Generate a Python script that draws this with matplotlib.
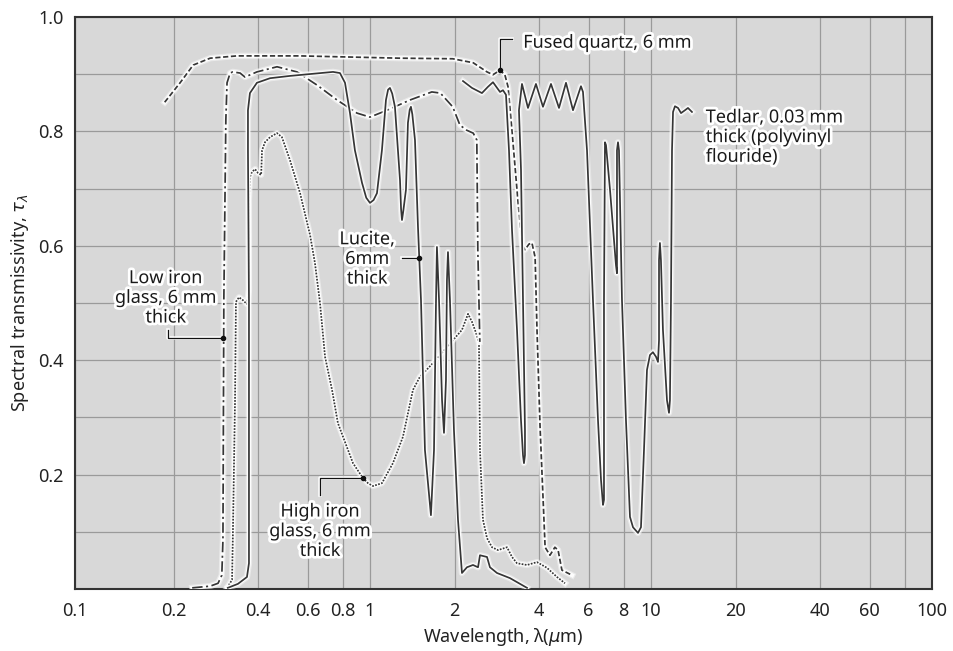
import matplotlib
matplotlib.use('Agg')
import matplotlib.pyplot as plt
import matplotlib.patheffects as pe

# wavelength (micrometres) and spectral transmissivity
quartz_wl = [0.186, 0.211, 0.235, 0.270, 0.336, 0.564, 1.28, 1.97, 2.33, 2.61, 2.74, 2.90, 3.02, 3.10,
             3.20, 3.36, 3.48, 3.56, 3.68, 3.77, 3.87, 3.93, 4.03, 4.09, 4.20, 4.37, 4.55, 4.67, 4.82, 5.24]
quartz_t = [0.851, 0.885, 0.916, 0.928, 0.932, 0.932, 0.928, 0.927, 0.920, 0.904, 0.899, 0.907, 0.899, 0.878,
            0.802, 0.680, 0.601, 0.593, 0.603, 0.605, 0.580, 0.453, 0.283, 0.208, 0.073, 0.059, 0.073, 0.068, 0.033, 0.024]

low_wl = [0.233, 0.270, 0.288, 0.297, 0.2998, 0.302, 0.307, 0.310, 0.318, 0.325, 0.345, 0.359, 0.396, 0.467,
          0.550, 0.648, 0.763, 0.899, 1.00, 1.15, 1.39, 1.66, 1.78, 1.97, 2.09, 2.21, 2.33, 2.40, 2.42, 2.46]
low_t = [0.002, 0.005, 0.010, 0.024, 0.086, 0.505, 0.820, 0.885, 0.902, 0.904, 0.902, 0.895, 0.904, 0.913,
         0.904, 0.881, 0.855, 0.832, 0.825, 0.837, 0.855, 0.869, 0.867, 0.843, 0.811, 0.802, 0.797, 0.785, 0.593, 0.432]

lucite_wl = [0.312, 0.339, 0.365, 0.371, 0.371, 0.368, 0.368, 0.374, 0.396, 0.441, 0.519, 0.739, 0.782, 0.815,
             0.849, 0.884, 0.937, 0.970, 1.000, 1.030, 1.059, 1.103, 1.140, 1.160, 1.178, 1.200, 1.227, 1.279,
             1.290, 1.300, 1.315, 1.343, 1.365, 1.385, 1.399, 1.415, 1.446, 1.482, 1.519, 1.569, 1.648, 1.690,
             1.718, 1.731, 1.761, 1.805, 1.834, 1.864, 1.879, 1.895, 1.926, 1.990, 2.057, 2.125, 2.214, 2.326,
             2.424, 2.463, 2.609, 2.673, 2.831, 3.150, 3.621]
lucite_t = [0.002, 0.009, 0.021, 0.045, 0.505, 0.767, 0.837, 0.867, 0.885, 0.893, 0.897, 0.904, 0.902, 0.885,
            0.832, 0.767, 0.710, 0.684, 0.675, 0.680, 0.692, 0.767, 0.855, 0.873, 0.876, 0.866, 0.843, 0.715,
            0.665, 0.645, 0.662, 0.698, 0.815, 0.838, 0.843, 0.830, 0.785, 0.633, 0.505, 0.243, 0.129, 0.243,
            0.505, 0.598, 0.505, 0.330, 0.273, 0.365, 0.540, 0.589, 0.505, 0.278, 0.121, 0.028, 0.038, 0.042,
            0.038, 0.059, 0.056, 0.038, 0.028, 0.019, 0.002]

high_wl = [0.310, 0.323, 0.325, 0.331, 0.3335, 0.342, 0.353, 0.365, 0.371, 0.371, 0.374, 0.380, 0.390, 0.400,
           0.410, 0.413, 0.423, 0.441, 0.467, 0.486, 0.519, 0.564, 0.612, 0.637, 0.664, 0.692, 0.733, 0.769,
           0.828, 0.870, 0.944, 0.984, 1.025, 1.103, 1.207, 1.310, 1.422, 1.506, 1.676, 1.879, 2.125, 2.214,
           2.233, 2.307, 2.384, 2.443, 2.463, 2.524, 2.609, 2.718, 2.855, 3.074, 3.202, 3.336, 3.621, 3.930,
           4.265, 4.630, 4.943]
high_t = [0.002, 0.016, 0.086, 0.330, 0.502, 0.510, 0.505, 0.498, 0.523, 0.680, 0.720, 0.729, 0.734, 0.727,
          0.724, 0.767, 0.781, 0.790, 0.797, 0.790, 0.750, 0.692, 0.619, 0.570, 0.500, 0.406, 0.348, 0.290,
          0.248, 0.220, 0.194, 0.185, 0.180, 0.185, 0.220, 0.266, 0.348, 0.371, 0.395, 0.423, 0.453, 0.476,
          0.481, 0.467, 0.448, 0.430, 0.243, 0.121, 0.089, 0.073, 0.068, 0.073, 0.056, 0.045, 0.042, 0.047,
          0.037, 0.021, 0.010]

tedlar_wl = [2.143, 2.307, 2.503, 2.630, 2.740, 2.902, 2.974, 3.048, 3.124, 3.202, 3.336, 3.447, 3.504, 3.532,
             3.561, 3.561, 3.504, 3.447, 3.390, 3.475, 3.650, 3.896, 4.127, 4.407, 4.706, 4.984, 5.278, 5.634,
             5.728, 5.920, 6.217, 6.478, 6.639, 6.749, 6.804, 6.804, 6.860, 6.917, 7.148, 7.385, 7.507, 7.568,
             7.568, 7.632, 7.694, 7.757, 7.885, 8.147, 8.419, 8.629, 8.990, 9.213, 9.443, 9.678, 9.918, 10.16,
             10.42, 10.59, 10.68, 10.68, 10.76, 10.85, 11.03, 11.40, 11.59, 11.68, 11.78, 11.88, 11.98, 12.17,
             12.48, 12.79, 13.21, 13.54, 13.99]
tedlar_t = [0.888, 0.876, 0.867, 0.878, 0.886, 0.869, 0.872, 0.864, 0.767, 0.628, 0.453, 0.295, 0.234, 0.220,
            0.234, 0.278, 0.505, 0.733, 0.837, 0.883, 0.841, 0.883, 0.843, 0.883, 0.841, 0.885, 0.837, 0.879,
            0.869, 0.767, 0.505, 0.295, 0.191, 0.147, 0.156, 0.505, 0.781, 0.776, 0.698, 0.610, 0.566, 0.552,
            0.767, 0.781, 0.767, 0.680, 0.505, 0.295, 0.126, 0.108, 0.098, 0.108, 0.243, 0.383, 0.409, 0.414,
            0.406, 0.397, 0.435, 0.575, 0.605, 0.575, 0.453, 0.330, 0.308, 0.330, 0.505, 0.767, 0.834, 0.844,
            0.841, 0.832, 0.837, 0.841, 0.834]

# leader lines (wavelength, transmissivity), last point sits on the curve
lead_low = ([0.191, 0.191, 0.301], [0.453, 0.439, 0.439])
lead_lucite = ([1.300, 1.495], [0.579, 0.579])
lead_high = ([0.664, 0.664, 0.944], [0.164, 0.194, 0.194])
lead_quartz = ([3.20, 2.90, 2.90], [0.962, 0.962, 0.907])

x_ticks = [0.0892, 0.2, 0.4, 0.6, 0.8, 1, 2, 4, 6, 8, 10, 20, 40, 60, 80, 100]
x_labels = ['0.1', '0.2', '0.4', '0.6', '0.8', '1', '2', '4', '6', '8', '10', '20', '40', '60', '', '100']
y_ticks = [0.2, 0.4, 0.6, 0.8, 1.0]
y_labels = ['0.2', '0.4', '0.6', '0.8', '1.0']
y_minor = [0.1, 0.3, 0.5, 0.7, 0.9]

plt.rcParams['font.family'] = ['Noto Sans', 'DejaVu Sans']
plt.rcParams['mathtext.fontset'] = 'dejavusans'

ink = '#363636'
halo = [pe.withStroke(linewidth=4, foreground='white')]

fig = plt.figure(figsize=(9.54, 6.51), dpi=100)
ax = fig.add_axes([75 / 954, 1 - 589 / 651, 857 / 954, 572 / 651])
ax.set_facecolor('#d8d8d8')
ax.set_xscale('log')
ax.set_xlim(0.0892, 100)
ax.set_ylim(0, 1)

ax.set_xticks(x_ticks, x_labels)
ax.minorticks_off()
ax.set_yticks(y_ticks, y_labels)
ax.set_yticks(y_minor, minor=True)
ax.tick_params(axis='both', which='both', length=0, labelsize=13, colors='#222222')
ax.tick_params(axis='x', pad=9)
ax.tick_params(axis='y', pad=8)
ax.grid(True, which='both', color='#9a9a9a', lw=0.9)
ax.set_axisbelow(True)
for s in ax.spines.values():
    s.set_color('#333333')
    s.set_linewidth(1.5)

curves = [
    (high_wl, high_t, (0, (1, 0.8))),
    (low_wl, low_t, (0, (6, 2, 1.2, 2))),
    (quartz_wl, quartz_t, (0, (3, 1.5))),
    (lucite_wl, lucite_t, '-'),
    (tedlar_wl, tedlar_t, '-'),
]
z = 3
for wl, t, ls in curves:
    ax.plot(wl, t, color='white', lw=4.6, alpha=0.45, solid_joinstyle='round', zorder=z)
    ax.plot(wl, t, color='white', lw=2.9, alpha=0.95, solid_joinstyle='round', zorder=z + 0.1)
    ax.plot(wl, t, color=ink, lw=1.25, ls=ls, solid_joinstyle='round', zorder=z + 0.2)
    z += 1

for lx, ly in [lead_low, lead_lucite, lead_high, lead_quartz]:
    ax.plot(lx, ly, color='white', lw=2.6, alpha=0.9, zorder=9)
    ax.plot(lx, ly, color='#111111', lw=0.9, zorder=9.5)
    ax.plot(lx[-1], ly[-1], 'o', color='#111111', ms=3, zorder=9.6)

txt = dict(transform=ax.transAxes, fontsize=13, color='#1a1a1a', path_effects=halo,
           linespacing=1.12, zorder=10)
ax.text(0.106, 0.509, 'Low iron\nglass, 6 mm\nthick', ha='center', va='center', **txt)
ax.text(0.341, 0.577, 'Lucite,\n6mm\nthick', ha='center', va='center', **txt)
ax.text(0.286, 0.101, 'High iron\nglass, 6 mm\nthick', ha='center', va='center', **txt)
ax.text(0.523, 0.955, 'Fused quartz, 6 mm', ha='left', va='center', **txt)
ax.text(0.736, 0.790, 'Tedlar, 0.03 mm\nthick (polyvinyl\nflouride)', ha='left', va='center',
        multialignment='left', **txt)

ax.set_xlabel(r'Wavelength, λ($\mu$m)', fontsize=13, color='#222222')
ax.set_ylabel(r'Spectral transmissivity, $\tau_\lambda$', fontsize=13, color='#222222')
ax.xaxis.set_label_coords(0.5, -0.084)
ax.xaxis.label.set_va('center')
ax.yaxis.set_label_coords(-0.064, 0.5)
ax.yaxis.label.set_va('center')

fig.savefig('out.png', dpi=100)
